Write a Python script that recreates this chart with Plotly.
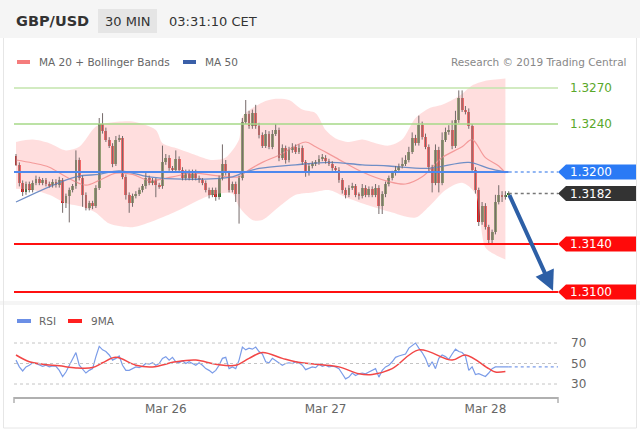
import pandas as pd
import plotly.graph_objects as go

# ---------------- data ----------------
start = pd.Timestamp('2019-03-25 01:30')   # first 30-min candle
first_open = 1.3213
close = [
    1.3206, 1.3191, 1.3183, 1.3190, 1.3185, 1.3191, 1.3194, 1.3191, 1.3193, 1.3190,
    1.3189, 1.3192, 1.3189, 1.3193, 1.3174, 1.3180, 1.3185, 1.3188, 1.3210, 1.3195,
    1.3181, 1.3170, 1.3174, 1.3172, 1.3187, 1.3240, 1.3234, 1.3227, 1.3222, 1.3207,
    1.3227, 1.3228, 1.3196, 1.3181, 1.3174, 1.3180, 1.3182, 1.3185, 1.3188, 1.3195,
    1.3191, 1.3193, 1.3189, 1.3188, 1.3208, 1.3212, 1.3203, 1.3202, 1.3211, 1.3202,
    1.3195, 1.3200, 1.3195, 1.3200, 1.3195, 1.3193, 1.3191, 1.3185, 1.3181, 1.3185,
    1.3179, 1.3195, 1.3207, 1.3199, 1.3185, 1.3190, 1.3182, 1.3195, 1.3242, 1.3248,
    1.3238, 1.3249, 1.3238, 1.3231, 1.3222, 1.3232, 1.3221, 1.3232, 1.3235, 1.3212,
    1.3220, 1.3210, 1.3218, 1.3221, 1.3217, 1.3220, 1.3208, 1.3199, 1.3205, 1.3207,
    1.3208, 1.3211, 1.3212, 1.3209, 1.3207, 1.3203, 1.3202, 1.3193, 1.3185, 1.3181,
    1.3187, 1.3188, 1.3181, 1.3180, 1.3187, 1.3181, 1.3186, 1.3181, 1.3187, 1.3172,
    1.3182, 1.3190, 1.3195, 1.3199, 1.3202, 1.3205, 1.3207, 1.3210, 1.3217, 1.3228,
    1.3224, 1.3239, 1.3229, 1.3221, 1.3204, 1.3191, 1.3218, 1.3191, 1.3227, 1.3233,
    1.3235, 1.3222, 1.3243, 1.3262, 1.3252, 1.3250, 1.3238, 1.3202, 1.3185, 1.3158,
    1.3172, 1.3154, 1.3143, 1.3150, 1.3175, 1.3181, 1.3179, 1.3181, 1.3182,
]
# wick lengths beyond the body, in pips
wick_up = [
    2, 2, 2, 2, 2, 2, 3, 2, 2, 2,   2, 2, 2, 3, 2, 2, 2, 2, 8, 2,
    2, 2, 2, 2, 2, 5, 9, 3, 2, 2,   3, 3, 2, 2, 2, 2, 2, 2, 2, 5,
    2, 2, 2, 2, 14, 3, 2, 2, 7, 2,  2, 2, 2, 2, 2, 2, 2, 2, 2, 2,
    2, 2, 16, 3, 2, 2, 2, 2, 3, 12, 3, 3, 7, 3, 2, 3, 2, 3, 5, 2,
    3, 2, 3, 3, 2, 3, 2, 2, 2, 2,   2, 3, 3, 2, 2, 2, 2, 2, 2, 2,
    2, 3, 2, 2, 3, 2, 2, 2, 3, 2,   2, 2, 2, 2, 3, 2, 5, 4, 4, 5,
    3, 8, 3, 3, 2, 2, 5, 3, 6, 4,   4, 8, 8, 6, 6, 3, 3, 2, 2, 2,
    3, 2, 2, 2, 6, 8, 3, 3, 2,
]
wick_dn = [
    1, 3, 3, 2, 2, 2, 2, 2, 2, 2,   2, 2, 2, 2, 8, 4, 22, 2, 2, 2,
    10, 2, 2, 3, 2, 2, 2, 2, 2, 3,  2, 2, 2, 4, 8, 3, 2, 2, 2, 2,
    2, 2, 10, 2, 2, 2, 2, 2, 2, 2,  2, 2, 2, 2, 2, 2, 2, 2, 3, 2,
    3, 2, 2, 2, 2, 2, 7, 25, 2, 2,  2, 2, 2, 3, 2, 2, 2, 2, 2, 3,
    2, 3, 2, 2, 2, 2, 2, 3, 2, 2,   2, 2, 2, 2, 2, 2, 2, 2, 3, 3,
    2, 2, 2, 3, 2, 2, 2, 2, 2, 7,   7, 3, 2, 2, 2, 2, 2, 2, 2, 2,
    2, 2, 2, 2, 3, 8, 2, 8, 2, 2,   2, 3, 2, 2, 2, 2, 2, 2, 3, 3,
    2, 2, 3, 3, 2, 2, 4, 2, 2,
]

# indicators read at selected candle indices
ma20_idx = [0, 5, 10, 15, 21, 25, 30, 35, 40, 47, 53, 60, 67, 69, 74, 79, 87, 90, 96,
            104, 112, 117, 122, 128, 134, 137, 141, 145, 147]
ma20_val = [1.3210, 1.32075, 1.3204, 1.3196, 1.3189, 1.3193, 1.3199, 1.3198, 1.3193,
            1.3196, 1.3199, 1.3197, 1.3196, 1.3200, 1.3208, 1.3214, 1.3225, 1.3221,
            1.3212, 1.3200, 1.3192, 1.3190, 1.3196, 1.3212, 1.3221, 1.3227, 1.3212,
            1.3205, 1.3199]
ma50_idx = [0, 18, 25, 31, 40, 50, 65, 68, 73, 84, 94, 104, 112, 124, 136, 142, 147]
ma50_val = [1.3175, 1.3196, 1.3198, 1.3201, 1.3196, 1.3194, 1.3196, 1.3199, 1.3203,
            1.3206, 1.3208, 1.3206, 1.3205, 1.3203, 1.3208, 1.3203, 1.3200]
bb_up_idx = [0, 5, 10, 15, 19, 24, 28, 35, 42, 44, 48, 51, 55, 59, 63, 67, 68, 74, 78,
             82, 86, 90, 93, 96, 100, 104, 108, 112, 116, 120, 124, 128, 131, 134, 137,
             141, 147]
bb_up_val = [1.3225, 1.3227, 1.3224, 1.3218, 1.3221, 1.3238, 1.3241, 1.3242, 1.3235,
             1.3224, 1.3220, 1.3217, 1.3213, 1.3210, 1.3212, 1.3227, 1.3246, 1.3258,
             1.3261, 1.3260, 1.3252, 1.3249, 1.3235, 1.3228, 1.3225, 1.3227, 1.3224,
             1.3222, 1.3227, 1.3245, 1.3253, 1.3256, 1.3260, 1.3265, 1.3272, 1.3276,
             1.3278]
bb_lo_idx = [0, 5, 10, 15, 20, 24, 28, 35, 42, 48, 53, 59, 65, 67, 71, 74, 79, 84, 89,
             94, 99, 106, 112, 120, 124, 129, 134, 138, 141, 144, 147]
bb_lo_val = [1.3186, 1.3185, 1.3181, 1.3174, 1.3171, 1.3166, 1.3157, 1.3154, 1.3160,
             1.3167, 1.3174, 1.3181, 1.3182, 1.3171, 1.3160, 1.3160, 1.3171, 1.3181,
             1.3183, 1.3185, 1.3179, 1.3172, 1.3167, 1.3162, 1.3171, 1.3185, 1.3191,
             1.3182, 1.3137, 1.3131, 1.3127]

rsi = [
    53.3, 46.7, 42.7, 46.7, 48.3, 50.7, 50.0, 48.3, 47.3, 48.3,
    46.7, 47.7, 47.3, 43.3, 37.3, 41.7, 48.3, 53.3, 60.7, 48.3,
    44.0, 40.7, 43.3, 45.0, 56.7, 66.7, 63.3, 61.7, 58.3, 53.3,
    55.0, 57.3, 48.3, 43.3, 43.3, 45.0, 46.7, 46.0, 47.3, 50.0,
    49.3, 50.7, 48.3, 50.0, 55.0, 56.7, 53.3, 56.0, 51.7, 50.7,
    52.7, 50.0, 51.7, 50.0, 48.3, 50.7, 48.3, 45.0, 43.3, 40.7,
    43.3, 48.3, 55.0, 56.0, 45.0, 46.7, 45.0, 53.3, 66.0, 63.3,
    65.0, 64.0, 66.0, 61.7, 59.3, 51.7, 50.7, 55.0, 52.7, 50.0,
    48.3, 50.0, 50.7, 50.0, 51.7, 50.7, 48.3, 44.0, 45.0, 46.7,
    46.0, 49.3, 47.3, 48.3, 46.7, 47.3, 46.7, 45.0, 40.0, 35.0,
    36.7, 40.7, 38.3, 40.0, 40.7, 40.0, 41.7, 43.3, 45.0, 36.7,
    43.3, 46.7, 48.3, 51.7, 56.0, 57.3, 58.3, 59.3, 65.0, 67.3,
    70.0, 65.0, 60.7, 55.0, 46.7, 51.7, 45.0, 55.0, 58.3, 56.7,
    54.0, 59.3, 64.0, 61.7, 60.7, 57.3, 43.3, 46.7, 39.3, 40.0,
    38.3, 37.3, 40.7, 45.0, 46.7, 46.7, 46.7, 46.7, 46.7,
]
rsi_ma_idx = [0, 4, 8, 13, 18, 23, 26, 30, 36, 41, 48, 54, 60, 66, 70, 74, 80, 84, 91,
              97, 103, 107, 113, 121, 131, 135, 142, 144, 147]
rsi_ma_val = [58.3, 51.7, 49.3, 47.7, 45.7, 46.0, 50.7, 56.0, 48.3, 46.7, 51.7, 53.3,
              49.3, 48.3, 55.0, 60.7, 55.0, 51.7, 49.0, 46.7, 40.0, 39.3, 45.0, 63.3,
              53.3, 58.3, 45.0, 41.7, 42.3]

resistances = [1.3270, 1.3240]
pivot = 1.3200
supports = [1.3140, 1.3100]
target = 1.3100
rsi_levels = [70, 50, 30]
date_ticks = ['2019-03-26', '2019-03-27', '2019-03-28']
date_labels = ['Mar 26', 'Mar 27', 'Mar 28']

# ---------------- derived ----------------
step = pd.Timedelta(minutes=30)
n = len(close)
times = [start + i * step for i in range(n)]
opens = [first_open] + close[:-1]
highs = [max(o, c) + w * 0.0001 for o, c, w in zip(opens, close, wick_up)]
lows = [min(o, c) - w * 0.0001 for o, c, w in zip(opens, close, wick_dn)]
last = close[-1]

W, H = 640, 430
ML, MR, MT, MB = 14, 82, 75, 33
PW, PH = W - ML - MR, H - MT - MB


def fx(px):
    return (px - ML) / PW


def fy(py):
    return (H - MB - py) / PH


x_range = [start - 0.6 * step, start + 162.8 * step]
y_range = [1.309333, 1.328083]
rsi_range = [17.32, 82.68]
px_per_price = (300 - 75) / (y_range[1] - y_range[0])

FONT = 'DejaVu Sans'
fig = go.Figure()

# Bollinger band
fig.add_trace(go.Scatter(x=[times[i] for i in bb_lo_idx], y=bb_lo_val, mode='lines',
                         line=dict(width=0, shape='spline', smoothing=0.8), hoverinfo='skip'))
fig.add_trace(go.Scatter(x=[times[i] for i in bb_up_idx], y=bb_up_val, mode='lines',
                         line=dict(width=0, shape='spline', smoothing=0.8), fill='tonexty',
                         fillcolor='rgba(255,190,190,0.5)', hoverinfo='skip'))
fig.add_trace(go.Scatter(x=[times[i] for i in ma20_idx], y=ma20_val, mode='lines',
                         line=dict(color='#f49a9a', width=1.2, shape='spline')))
fig.add_trace(go.Scatter(x=[times[i] for i in ma50_idx], y=ma50_val, mode='lines',
                         line=dict(color='#6f8ec6', width=1.3, shape='spline')))

# wicks
wx, wy = [], []
for t, h, l in zip(times, highs, lows):
    wx += [t, t, None]
    wy += [l, h, None]
fig.add_trace(go.Scatter(x=wx, y=wy, mode='lines', line=dict(color='#756a6a', width=1)))
# bodies
fig.add_trace(go.Bar(x=times, y=[abs(c - o) for o, c in zip(opens, close)],
                     base=[min(o, c) for o, c in zip(opens, close)],
                     marker=dict(color=['#2a7a2a' if c >= o else '#e01515' for o, c in zip(opens, close)],
                                 line=dict(width=0)),
                     width=0.85 * 30 * 60 * 1000))

# RSI
fig.add_trace(go.Scatter(x=times, y=rsi, mode='lines', xaxis='x2', yaxis='y2',
                         line=dict(color='#7b9ce8', width=1.2)))
fig.add_trace(go.Scatter(x=[times[-1], x_range[1]], y=[rsi[-1], rsi[-1]], mode='lines',
                         xaxis='x2', yaxis='y2', line=dict(color='#7b9ce8', width=1.2, dash='dot')))
fig.add_trace(go.Scatter(x=[times[i] for i in rsi_ma_idx], y=rsi_ma_val, mode='lines',
                         xaxis='x2', yaxis='y2', line=dict(color='#f24646', width=1.5, shape='spline')))

shapes = []
annotations = []

# header & frame
shapes.append(dict(type='rect', xref='paper', yref='paper', x0=fx(0), x1=fx(640), y0=fy(38), y1=fy(0),
                   fillcolor='#f5f5f5', line=dict(width=0), layer='below'))
shapes.append(dict(type='rect', xref='paper', yref='paper', x0=fx(98), x1=fx(157), y0=fy(33), y1=fy(9),
                   fillcolor='#e5e5e5', line=dict(width=0), layer='below'))
shapes.append(dict(type='rect', xref='paper', yref='paper', x0=fx(0), x1=fx(640), y0=fy(305), y1=fy(301),
                   fillcolor='#f5f5f5', line=dict(width=0), layer='below'))
for x0, y0, x1, y1 in [(3.5, 38, 3.5, 428), (636.5, 38, 636.5, 428), (3.5, 428, 636.5, 428)]:
    shapes.append(dict(type='line', xref='paper', yref='paper', x0=fx(x0), x1=fx(x1), y0=fy(y0), y1=fy(y1),
                       line=dict(color='#e6e6e6', width=1)))

annotations += [
    dict(text='<b>GBP/USD</b>', x=fx(14), y=fy(21), xanchor='left', yanchor='middle',
         font=dict(family=FONT, size=14.5, color='#333333')),
    dict(text='30 MIN', x=fx(127.5), y=fy(21), xanchor='center', yanchor='middle',
         font=dict(family=FONT, size=13, color='#333333')),
    dict(text='03:31:10 CET', x=fx(167), y=fy(21), xanchor='left', yanchor='middle',
         font=dict(family=FONT, size=13, color='#333333')),
    dict(text='MA 20 + Bollinger Bands', x=fx(37), y=fy(62), xanchor='left', yanchor='middle',
         font=dict(family=FONT, size=10.5, color='#666666')),
    dict(text='MA 50', x=fx(203), y=fy(62), xanchor='left', yanchor='middle',
         font=dict(family=FONT, size=10.5, color='#666666')),
    dict(text='Research © 2019 Trading Central', x=fx(629), y=fy(62), xanchor='right', yanchor='middle',
         font=dict(family=FONT, size=10.5, color='#888888')),
    dict(text='RSI', x=fx(37), y=fy(321), xanchor='left', yanchor='middle',
         font=dict(family=FONT, size=10.5, color='#666666')),
    dict(text='9MA', x=fx(89), y=fy(321), xanchor='left', yanchor='middle',
         font=dict(family=FONT, size=10.5, color='#666666')),
]
for a in annotations:
    a.update(xref='paper', yref='paper', showarrow=False)

for x0, x1, yy, col in [(17, 30, 62, '#f57c7c'), (183, 196, 62, '#3a5fa8'),
                        (17, 31, 321, '#6b8fe6'), (68, 82, 321, '#ff2020')]:
    shapes.append(dict(type='line', xref='paper', yref='paper', x0=fx(x0), x1=fx(x1), y0=fy(yy), y1=fy(yy),
                       line=dict(color=col, width=4)))

# level lines
green_cols = ['#c3e4ad', '#a6d887']
for lv, col in zip(resistances, green_cols):
    shapes.append(dict(type='line', xref='paper', yref='y', x0=0, x1=1, y0=lv, y1=lv,
                       line=dict(color=col, width=1.5)))
    annotations.append(dict(text=f'{lv:.4f}', xref='paper', yref='y', x=fx(568), y=lv, xanchor='left',
                            yanchor='middle', showarrow=False, font=dict(family=FONT, size=12, color='#5aa82a')))

shapes.append(dict(type='line', xref='x', yref='y', x0=x_range[0], x1=times[-1], y0=pivot, y1=pivot,
                   line=dict(color='#4d88ee', width=2)))
shapes.append(dict(type='line', xref='x', yref='y', x0=times[-1], x1=x_range[1], y0=pivot, y1=pivot,
                   line=dict(color='#6d9ef0', width=1.5, dash='dot')))
shapes.append(dict(type='line', xref='x', yref='y', x0=times[-1], x1=x_range[1], y0=last, y1=last,
                   line=dict(color='#777777', width=1.5, dash='dot')))
for lv in supports:
    shapes.append(dict(type='line', xref='paper', yref='y', x0=0, x1=1, y0=lv, y1=lv,
                       line=dict(color='#ff1010', width=2)))


def tag(level, color):
    hh = 7.5 / px_per_price
    path = (f'M {fx(558)} {level} L {fx(566)} {level + hh} L {fx(636)} {level + hh} '
            f'L {fx(636)} {level - hh} L {fx(566)} {level - hh} Z')
    shapes.append(dict(type='path', xref='paper', yref='y', path=path, fillcolor=color,
                       line=dict(width=0)))
    annotations.append(dict(text=f'{level:.4f}', xref='paper', yref='y', x=fx(568), y=level,
                            xanchor='left', yanchor='middle', showarrow=False,
                            font=dict(family=FONT, size=12, color='white')))


tag(pivot, '#2a7af5')
tag(last, '#333333')
for lv in supports:
    tag(lv, '#ff0a0a')

# projection arrow
annotations.append(dict(x=start + 161.3 * step, y=target + 0.0001, ax=times[-1], ay=last,
                        xref='x', yref='y', axref='x', ayref='y', text='', showarrow=True,
                        arrowhead=2, arrowsize=1, arrowwidth=4, arrowcolor='#2d5fa6'))

# RSI levels
for lv in rsi_levels:
    shapes.append(dict(type='line', xref='paper', yref='y2', x0=0, x1=1, y0=lv, y1=lv,
                       line=dict(color='#c4c4c4', width=1, dash='dot')))
    annotations.append(dict(text=str(lv), xref='paper', yref='y2', x=fx(569), y=lv, xanchor='left',
                            yanchor='middle', showarrow=False, font=dict(family=FONT, size=12, color='#666666')))

# x-axis end ticks
for xx in (0, 1):
    shapes.append(dict(type='line', xref='paper', yref='paper', x0=xx, x1=xx, y0=fy(397), y1=fy(403),
                       line=dict(color='#b0b0b0', width=1.5)))

fig.update_layout(
    width=W, height=H, margin=dict(l=ML, r=MR, t=MT, b=MB),
    paper_bgcolor='white', plot_bgcolor='white', showlegend=False, hovermode=False,
    barmode='overlay', bargap=0,
    xaxis=dict(domain=[0, 1], anchor='y', range=x_range, visible=False, type='date'),
    yaxis=dict(domain=[fy(300), fy(75)], range=y_range, visible=False),
    xaxis2=dict(domain=[0, 1], anchor='y2', range=x_range, type='date', showline=True,
                linecolor='#b0b0b0', linewidth=1.5, showgrid=False, zeroline=False, ticks='',
                tickvals=[pd.Timestamp(d) for d in date_ticks], ticktext=date_labels,
                tickfont=dict(family=FONT, size=12, color='#666666')),
    yaxis2=dict(domain=[0, fy(330)], range=rsi_range, visible=False),
    shapes=shapes, annotations=annotations,
    font=dict(family=FONT),
)

fig.write_html('out.html', config={'displayModeBar': False},
               post_script="document.body.style.margin='0';document.body.style.padding='0';"
                           "document.body.style.overflow='hidden';")
